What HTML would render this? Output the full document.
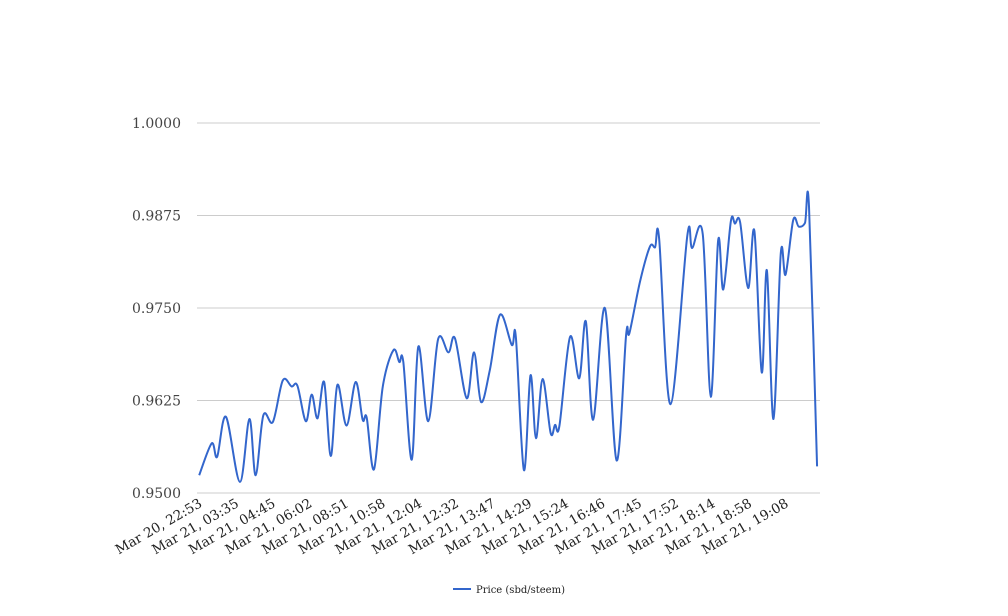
<!DOCTYPE html>
<html><head><meta charset="utf-8"><style>
body{margin:0;background:#fff;}
svg{display:block;font-family:"DejaVu Serif","Liberation Serif",serif;}
</style></head><body>
<svg id="chart" width="1008" height="616" viewBox="0 0 1008 616">
<g id="grid"></g>
<g id="ylabels"></g>
<g id="xlabels"></g>
<path id="line" fill="none" stroke="#3366cc" stroke-width="2"/>
<g>
<line x1="453" y1="589" x2="471" y2="589" stroke="#3366cc" stroke-width="2"/>
<text x="476" y="593" font-size="10" fill="#222">Price (sbd/steem)</text>
</g>
</svg>
<script>
const yTicks=[0.95,0.9625,0.975,0.9875,1.0];
const yTickLabels=["0.9500","0.9625","0.9750","0.9875","1.0000"];
const xLabels=["Mar 20, 22:53","Mar 21, 03:35","Mar 21, 04:45","Mar 21, 06:02","Mar 21, 08:51","Mar 21, 10:58","Mar 21, 12:04","Mar 21, 12:32","Mar 21, 13:47","Mar 21, 14:29","Mar 21, 15:24","Mar 21, 16:46","Mar 21, 17:45","Mar 21, 17:52","Mar 21, 18:14","Mar 21, 18:58","Mar 21, 19:08"];
const times=[0.06,0.40,0.55,0.79,1.17,1.43,1.60,1.81,2.07,2.34,2.58,2.74,2.97,3.13,3.29,3.47,3.65,3.83,4.08,4.33,4.52,4.63,4.83,5.07,5.36,5.52,5.63,5.86,6.04,6.31,6.58,6.86,7.04,7.36,7.56,7.75,7.99,8.27,8.59,8.70,8.92,9.10,9.25,9.43,9.65,9.77,9.89,10.18,10.43,10.61,10.81,11.13,11.45,11.71,11.80,12.09,12.36,12.50,12.61,12.92,13.38,13.51,13.80,14.02,14.22,14.36,14.57,14.68,14.82,15.04,15.21,15.41,15.55,15.73,15.93,16.06,16.27,16.42,16.59,16.70,16.92];
const prices=[0.9524,0.9567,0.9549,0.9603,0.9515,0.9600,0.9524,0.9605,0.9596,0.9652,0.9644,0.9645,0.9597,0.9633,0.9601,0.9650,0.9550,0.9646,0.9591,0.9650,0.9599,0.9602,0.9532,0.9644,0.9693,0.9677,0.9677,0.9545,0.9698,0.9597,0.9708,0.9690,0.9709,0.9628,0.9690,0.9623,0.9666,0.9741,0.9700,0.9711,0.9531,0.9659,0.9574,0.9654,0.9581,0.9592,0.9591,0.9711,0.9655,0.9732,0.9599,0.9750,0.9544,0.9714,0.9716,0.9786,0.9833,0.9832,0.9844,0.9620,0.9848,0.9831,0.9850,0.9630,0.9841,0.9775,0.9868,0.9864,0.9866,0.9777,0.9854,0.9663,0.9801,0.9600,0.9824,0.9795,0.9869,0.9860,0.9865,0.9887,0.9536];
const X0=197,X1=820,Y0=493,Y1=123;
const xs=t=>X0+t*(X1-X0)/xLabels.length;
const ys=v=>Y0-(v-0.95)/(1.0-0.95)*(Y0-Y1);
const NS="http://www.w3.org/2000/svg";
const grid=document.getElementById('grid'),yl=document.getElementById('ylabels'),xl=document.getElementById('xlabels');
yTicks.forEach((v,i)=>{
 const l=document.createElementNS(NS,'line');
 
 
 l.setAttribute('x1',X0);l.setAttribute('x2',X1);l.setAttribute('y1',ys(v));l.setAttribute('y2',ys(v));
 l.setAttribute('stroke','#cccccc');l.setAttribute('stroke-width','1');grid.appendChild(l);
 const t=document.createElementNS(NS,'text');
 
 
 t.setAttribute('x',181);t.setAttribute('y',ys(v)+5);t.setAttribute('text-anchor','end');
 t.setAttribute('font-size','14');t.setAttribute('fill','#444');t.textContent=yTickLabels[i];yl.appendChild(t);
});
xLabels.forEach((s,i)=>{
 const t=document.createElementNS(NS,'text');
 
 
 const x=xs(i)+6,y=506;
 t.setAttribute('x',x);t.setAttribute('y',y);t.setAttribute('text-anchor','end');
 t.setAttribute('transform',`rotate(-30 ${x} ${y})`);
 t.setAttribute('font-size','13.5');t.setAttribute('fill','#222');t.textContent=s;xl.appendChild(t);
});
const P=times.map((t,i)=>[xs(t),ys(prices[i])]);
let d=`M${P[0][0]},${P[0][1]}`;
for(let i=0;i<P.length-1;i++){
 const p0=P[Math.max(0,i-1)],p1=P[i],p2=P[i+1],p3=P[Math.min(P.length-1,i+2)];
 const k=0.5/3;
 d+=` C${p1[0]+(p2[0]-p0[0])*k},${p1[1]+(p2[1]-p0[1])*k} ${p2[0]-(p3[0]-p1[0])*k},${p2[1]-(p3[1]-p1[1])*k} ${p2[0]},${p2[1]}`;
}
document.getElementById('line').setAttribute('d',d);
</script>
</body></html>
